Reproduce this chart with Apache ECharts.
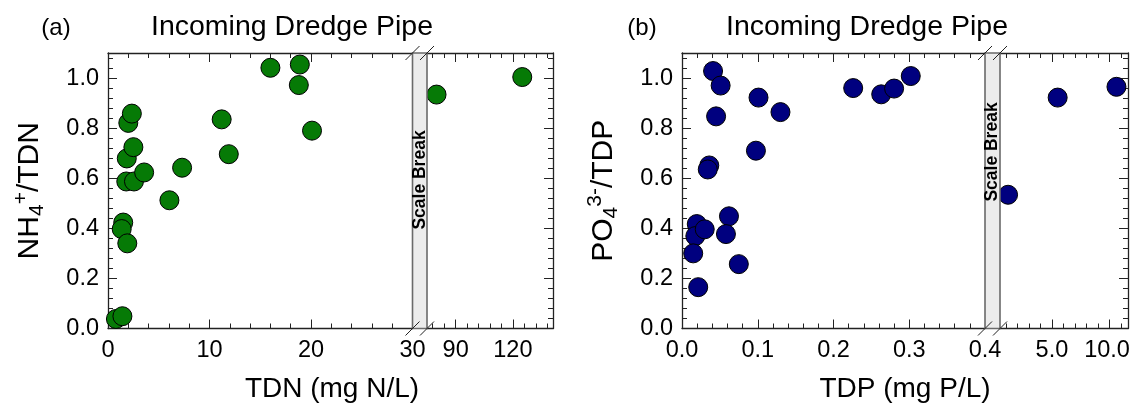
<!DOCTYPE html>
<html><head><meta charset="utf-8">
<script src="https://cdn.jsdelivr.net/npm/echarts@6/dist/echarts.min.js"></script>
<style>html,body{margin:0;padding:0;background:#fff}#c{width:1130px;height:408px}</style>
</head><body><div id="c"></div>
<script>
// ---------- DATA ----------
// Panel (a): NH4+/TDN vs TDN (mg N/L); low segment 0-30, high segment after scale break
const tdnLow  = [0.78, 1.42, 1.5, 1.35, 1.9, 1.8, 1.85, 2.0, 2.35, 2.5, 2.56, 3.56, 6.05, 7.3, 11.2, 11.9, 16.0, 18.9, 18.8, 20.1];
const nh4Low  = [0.038, 0.049, 0.423, 0.397, 0.34, 0.587, 0.679, 0.821, 0.858, 0.724, 0.587, 0.623, 0.512, 0.642, 0.835, 0.696, 1.041, 1.054, 0.972, 0.79];
const tdnHigh = [80, 124.9];
const nh4High = [0.934, 1.004];
// Panel (b): PO4 3-/TDP vs TDP (mg P/L)
const tdpLow  = [0.041, 0.051, 0.045, 0.101, 0.130, 0.0976, 0.036, 0.034, 0.0195, 0.0176, 0.030, 0.062, 0.058, 0.0148, 0.0214, 0.075, 0.226, 0.263, 0.280, 0.302];
const po4Low  = [1.028, 0.970, 0.847, 0.922, 0.864, 0.710, 0.651, 0.635, 0.417, 0.369, 0.396, 0.448, 0.377, 0.300, 0.165, 0.257, 0.960, 0.935, 0.958, 1.008];
const tdpHigh = [1.2, 5.5, 10.6];
const po4High = [0.534, 0.922, 0.965];
// Tick labels
const yTickLabels   = [0, 0.2, 0.4, 0.6, 0.8, 1.0];
const tdnLowTicks   = [0, 10, 20, 30];
const tdnHighTicks  = [90, 120];
const tdpLowTicks   = [0, 0.1, 0.2, 0.3, 0.4];
const tdpHighTicks  = [5, 10];
// Axis ranges
const yRange = [0, 1.1];
const tdnLowRange = [0, 30], tdnHighRange = [75, 141];
const tdpLowRange = [0, 0.4], tdpHighRange = [0.5, 11.6];

// ---------- STYLE / LAYOUT ----------
const FONT = "'Liberation Sans', Arial, sans-serif";
const LINE = '#222';
const TICKFS = 23.5;
const TOP = 53, H = 275.5;
const G = [
  {left: 108,  top: TOP, width: 304.5, height: H},
  {left: 427,  top: TOP, width: 126,   height: H},
  {left: 682,  top: TOP, width: 303,   height: H},
  {left: 1000, top: TOP, width: 128,   height: H}
];
function minorBetween(majors, step, lo, hi) {
  const out = [];
  const n = Math.round((hi - lo) / step);
  for (let i = 0; i <= n; i++) {
    const v = +(lo + i * step).toFixed(6);
    if (v > lo - 1e-9 && v < hi + 1e-9 && !majors.some(m => Math.abs(m - v) < 1e-9)) out.push(v);
  }
  return out;
}
const yMajor = yTickLabels;
const yMinor = minorBetween(yMajor, 0.04, 0, 1.08);

const xAxes = [], yAxes = [];
function base(grid, pos, rng, ticks, len) {
  return {
    type: 'value', gridIndex: grid, position: pos, min: rng[0], max: rng[1],
    axisLine: {show: false, onZero: false, lineStyle: {color: LINE, width: 1.3}},
    axisTick: {show: true, inside: true, length: len, customValues: ticks, lineStyle: {color: LINE, width: 1}},
    axisLabel: {show: false},
    splitLine: {show: false}, silent: true
  };
}
function addX(a) { xAxes.push(a); return xAxes.length - 1; }
function addY(a) { yAxes.push(a); return yAxes.length - 1; }

function segment(grid, xr, xMaj, xMin, fmt, ySide, yName) {
  const bx = base(grid, 'bottom', xr, xMaj, 9);
  bx.axisLine.show = true;
  bx.axisLabel = {show: true, customValues: xMaj, formatter: fmt, fontSize: TICKFS, fontFamily: FONT, color: '#000', margin: 10,
    rich: {r: {fontSize: TICKFS, fontFamily: FONT, color: '#000', padding: [0, 5, 0, 0]}}};
  const xi = addX(bx);
  addX(base(grid, 'bottom', xr, xMin, 5));
  const tx = base(grid, 'top', xr, xMaj, 9); tx.axisLine.show = true; addX(tx);
  addX(base(grid, 'top', xr, xMin, 5));
  const my = base(grid, ySide, yRange, yMajor, 9);
  my.axisLine.show = true;
  if (ySide === 'left') {
    my.axisLabel = {show: true, customValues: yMajor, formatter: v => v.toFixed(1), fontSize: TICKFS, fontFamily: FONT, color: '#000', margin: 9};
    my.name = yName.text;
    my.nameLocation = 'middle';
    my.nameRotate = 90;
    my.nameGap = 59;
    my.nameTextStyle = {fontFamily: FONT, color: '#000', fontSize: 30,
      rich: {
        n: {fontSize: 30, fontFamily: FONT, color: '#000'},
        s: {fontSize: 21, fontFamily: FONT, color: '#000', padding: [14, 0, 0, 0]},
        p: {fontSize: 21, fontFamily: FONT, color: '#000', padding: [0, 0, 17, 0]}
      }};
  }
  const yi = addY(my);
  addY(base(grid, ySide, yRange, yMinor, 5));
  return {xi, yi};
}

const sA1 = segment(0, tdnLowRange, tdnLowTicks, minorBetween(tdnLowTicks, 2, 0, 30), v => String(v), 'left', {text: '{n|NH}{s|4}{p|+}{n|/TDN}'});
const sA2 = segment(1, tdnHighRange, tdnHighTicks, minorBetween(tdnHighTicks, 6, 78, 138), v => String(v), 'right');
const sB1 = segment(2, tdpLowRange, tdpLowTicks, minorBetween(tdpLowTicks, 0.02, 0, 0.4), v => v.toFixed(1), 'left', {text: '{n|PO}{s|4}{p|3-}{n|/TDP}'});
const sB2 = segment(3, tdpHighRange, tdpHighTicks, minorBetween(tdpHighTicks, 1, 1, 11),
  v => (v === tdpHighTicks[tdpHighTicks.length - 1] ? '{r|' + v.toFixed(1) + '}' : v.toFixed(1)), 'right');

function pts(xs, ys) { return xs.map((x, i) => [x, ys[i]]); }
function scatter(seg, data, color) {
  return {
    type: 'scatter', xAxisIndex: seg.xi, yAxisIndex: seg.yi, data, clip: false,
    symbol: 'circle', symbolSize: 19,
    itemStyle: {color, borderColor: '#000', borderWidth: 1, opacity: 1},
    emphasis: {disabled: true}, silent: true
  };
}
const GREEN = '#067a06', NAVY = '#00007f';
const series = [
  scatter(sA1, pts(tdnLow, nh4Low), GREEN),
  scatter(sA2, pts(tdnHigh, nh4High), GREEN),
  scatter(sB1, pts(tdpLow, po4Low), NAVY),
  scatter(sB2, pts(tdpHigh, po4High), NAVY)
];

// ---------- decorations (scale breaks, titles) ----------
const graphics = [];
function txt(x, y, text, size) {
  graphics.push({type: 'text', x, y, silent: true, z: 100,
    style: {text, fontSize: size, fontFamily: FONT, fill: '#000',
      textAlign: 'center', textVerticalAlign: 'middle', align: 'center', verticalAlign: 'middle'}});
}
function breakBand(x0, x1, textY) {
  const bottom = TOP + H;
  graphics.push({type: 'rect', shape: {x: x0, y: TOP, width: x1 - x0, height: H}, silent: true, z: 50,
    style: {fill: '#ececec', stroke: '#6a6a6a', lineWidth: 1.6}});
  [x0, x1].forEach(ex => {
    [TOP, bottom].forEach(ey => {
      graphics.push({type: 'line', shape: {x1: ex - 7, y1: ey + 7, x2: ex + 7, y2: ey - 7}, silent: true, z: 60,
        style: {stroke: '#222', lineWidth: 1}});
    });
  });
  graphics.push({type: 'text', x: (x0 + x1) / 2, y: textY, rotation: Math.PI / 2, silent: true, z: 70,
    style: {text: 'Scale Break', fontSize: 17.5, fontWeight: 'bold', fontFamily: FONT, fill: '#000',
      textAlign: 'center', textVerticalAlign: 'middle', align: 'center', verticalAlign: 'middle'}});
}
breakBand(412.5, 427, 180);
breakBand(985, 1000, 152);
txt(292, 27, 'Incoming Dredge Pipe', 28.5);
txt(867, 27, 'Incoming Dredge Pipe', 28.5);
txt(56, 28, '(a)', 24);
txt(642, 28, '(b)', 24);
txt(332, 389, 'TDN (mg N/L)', 28);
txt(905, 389, 'TDP (mg P/L)', 28);

const chart = echarts.init(document.getElementById('c'), null, {renderer: 'canvas'});
chart.setOption({
  animation: false,
  backgroundColor: '#fff',
  grid: G.map(g => Object.assign({containLabel: false, outerBoundsMode: 'none'}, g)),
  xAxis: xAxes,
  yAxis: yAxes,
  series,
  graphic: graphics
});
</script></body></html>
